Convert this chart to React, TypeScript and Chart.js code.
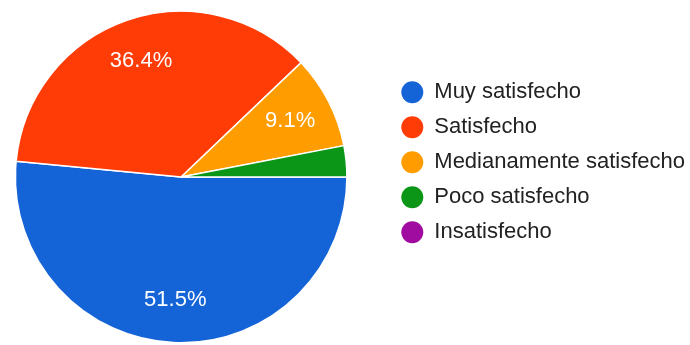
import React, { useEffect, useRef } from "react";
import { Chart, registerables } from "chart.js";

Chart.register(...registerables);

const categories: string[] = [
  "Muy satisfecho",
  "Satisfecho",
  "Medianamente satisfecho",
  "Poco satisfecho",
  "Insatisfecho",
];
const responses: number[] = [17, 12, 3, 1, 0];
const sliceColors: string[] = ["#1464d7", "#ff3b06", "#ff9d00", "#0c9617", "#a00ba0"];

const FONT = "'Liberation Sans', Arial, sans-serif";

const pieLabels = {
  id: "pieLabels",
  afterDatasetsDraw(chart: any) {
    const ctx = chart.ctx;
    const meta = chart.getDatasetMeta(0);
    const data: number[] = chart.data.datasets[0].data;
    const total = data.reduce((a, b) => a + b, 0);
    ctx.save();
    ctx.fillStyle = "#ffffff";
    ctx.font = `22px ${FONT}`;
    ctx.textAlign = "center";
    ctx.textBaseline = "middle";
    meta.data.forEach((arc: any, i: number) => {
      const pct = (data[i] / total) * 100;
      if (pct < 5) return;
      const { x, y, startAngle, endAngle, outerRadius } = arc.getProps(
        ["x", "y", "startAngle", "endAngle", "outerRadius"],
        true
      );
      const mid = (startAngle + endAngle) / 2;
      const r = outerRadius * 0.74;
      ctx.fillText(pct.toFixed(1) + "%", x + Math.cos(mid) * r, y + Math.sin(mid) * r);
    });
    ctx.restore();
  },
};

export default function App() {
  const canvasRef = useRef<HTMLCanvasElement>(null);

  useEffect(() => {
    if (!canvasRef.current) return;
    const chart = new Chart(canvasRef.current, {
      type: "pie",
      data: {
        labels: categories,
        datasets: [
          {
            data: responses,
            backgroundColor: sliceColors,
            borderColor: "#ffffff",
            borderWidth: 1.5,
          },
        ],
      },
      options: {
        responsive: false,
        animation: false,
        rotation: 90,
        layout: { padding: { left: 0, right: -5, top: 10.5, bottom: 1.5 } },
        plugins: {
          tooltip: { enabled: false },
          legend: {
            position: "right",
            align: "start",
            title: {
              display: true,
              text: "",
              padding: { top: 56.8, bottom: 0 },
              font: { size: 1, lineHeight: 1 },
            },
            labels: {
              usePointStyle: true,
              pointStyle: "circle",
              pointStyleWidth: 22,
              boxHeight: 15.56,
              padding: 13,
              color: "#222222",
              font: { size: 22, family: FONT },
              generateLabels: (c: any) =>
                (Chart as any).overrides.pie.plugins.legend.labels
                  .generateLabels(c)
                  .map((it: any) => ({ ...it, lineWidth: 0, strokeStyle: "rgba(0,0,0,0)" })),
            },
          },
        },
      },
      plugins: [pieLabels],
    });
    return () => chart.destroy();
  }, []);

  return (
    <div style={{ position: "fixed", left: 0, top: 0, width: 690, height: 345, background: "#fff", overflow: "hidden" }}>
      <canvas
        ref={canvasRef}
        width={716}
        height={345}
        style={{ display: "block", position: "absolute", left: -26, top: 0 }}
      />
    </div>
  );
}
